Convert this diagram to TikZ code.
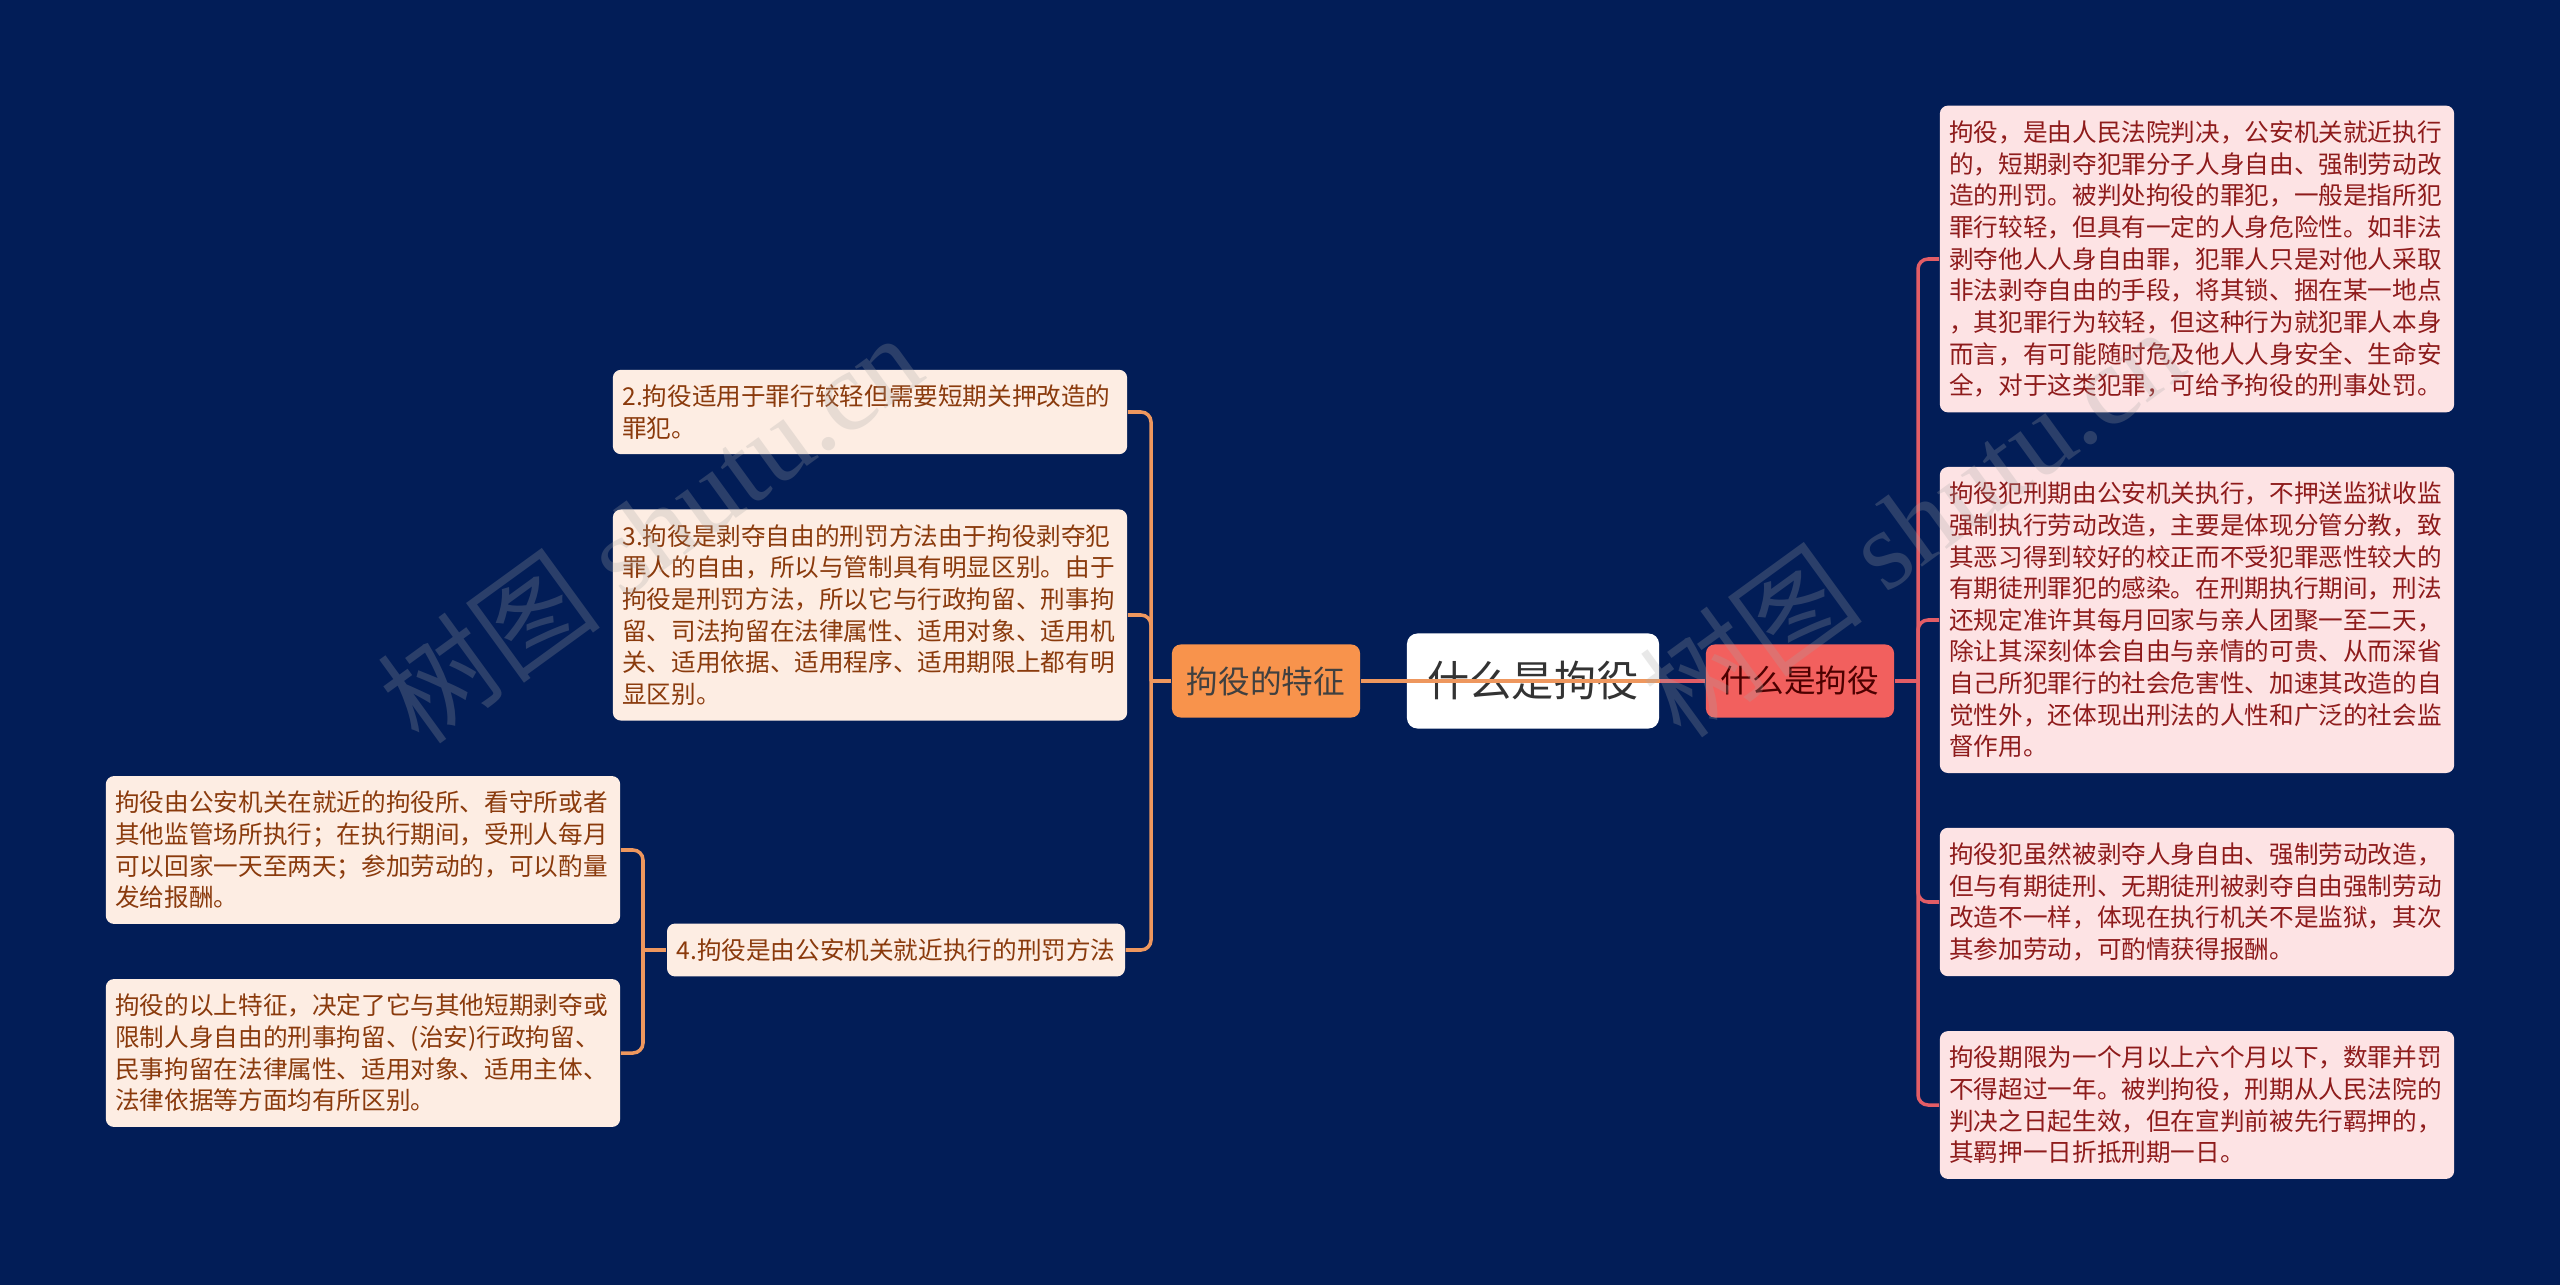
\documentclass[tikz,border=0pt]{standalone}
\usepackage{fontspec}
\setmainfont{Noto Sans CJK SC}
\newfontfamily\wmfont{Liberation Serif}
\definecolor{navy}{HTML}{021D57}
\definecolor{peach}{HTML}{FDEDE3}
\definecolor{blush}{HTML}{FDE3E4}
\definecolor{amber}{HTML}{F8934C}
\definecolor{coral}{HTML}{F2605E}
\definecolor{rust}{HTML}{8A3A0C}
\definecolor{wine}{HTML}{8E1B1B}
\definecolor{ambline}{HTML}{EE975E}
\definecolor{corline}{HTML}{E25D66}

\begin{document}
\begin{tikzpicture}[x=.01cm,y=-.01cm,
 leaf/.style={rounded corners=2.3pt,inner xsep=.095cm,inner ysep=.15cm,font=\fontsize{7}{9}\selectfont},
 wide/.style={leaf,text width=4.95cm,align=left},
 lleaf/.style={fill=peach,text=rust},
 rleaf/.style={fill=blush,text=wine},
 topic/.style={rounded corners=2.5pt,minimum width=1.88cm,minimum height=.73cm,font=\fontsize{9}{11}\selectfont},
 fline/.style={ambline,line width=1pt},
 rline/.style={corline,line width=1pt},
 wmark/.style={rotate=36,text=gray!70,opacity=.25,font=\fontsize{32}{34}\selectfont}]
 \fill[navy](0,0)rectangle(2560,1285);
 \node[fill=white,rounded corners=3pt,minimum width=2.52cm,minimum height=.95cm,text=black!80,font=\fontsize{12}{14}\selectfont](root)at(1533,681){什么是拘役};
 \node[topic,fill=amber,text=black!75](feat)at(1266,681){拘役的特征};
 \node[topic,fill=coral,text=black!70!red](what)at(1800,681){什么是拘役};
 \node[wide,lleaf](l1)at(870,412){2.拘役适用于罪行较轻但需要短期关押改造的\\罪犯。};
 \node[wide,lleaf](l2)at(870,615){3.拘役是剥夺自由的刑罚方法由于拘役剥夺犯\\罪人的自由，所以与管制具有明显区别。由于\\拘役是刑罚方法，所以它与行政拘留、刑事拘\\留、司法拘留在法律属性、适用对象、适用机\\关、适用依据、适用程序、适用期限上都有明\\显区别。};
 \node[leaf,lleaf](l3)at(896,950){4.拘役是由公安机关就近执行的刑罚方法};
 \node[wide,lleaf](l3a)at(363,850){拘役由公安机关在就近的拘役所、看守所或者\\其他监管场所执行；在执行期间，受刑人每月\\可以回家一天至两天；参加劳动的，可以酌量\\发给报酬。};
 \node[wide,lleaf](l3b)at(363,1053){拘役的以上特征，决定了它与其他短期剥夺或\\限制人身自由的刑事拘留、(治安)行政拘留、\\民事拘留在法律属性、适用对象、适用主体、\\法律依据等方面均有所区别。};
 \node[wide,rleaf](r1)at(2197,259){拘役，是由人民法院判决，公安机关就近执行\\的，短期剥夺犯罪分子人身自由、强制劳动改\\造的刑罚。被判处拘役的罪犯，一般是指所犯\\罪行较轻，但具有一定的人身危险性。如非法\\剥夺他人人身自由罪，犯罪人只是对他人采取\\非法剥夺自由的手段，将其锁、捆在某一地点\\，其犯罪行为较轻，但这种行为就犯罪人本身\\而言，有可能随时危及他人人身安全、生命安\\全，对于这类犯罪，可给予拘役的刑事处罚。};
 \node[wide,rleaf](r2)at(2197,620){拘役犯刑期由公安机关执行，不押送监狱收监\\强制执行劳动改造，主要是体现分管分教，致\\其恶习得到较好的校正而不受犯罪恶性较大的\\有期徒刑罪犯的感染。在刑期执行期间，刑法\\还规定准许其每月回家与亲人团聚一至二天，\\除让其深刻体会自由与亲情的可贵、从而深省\\自己所犯罪行的社会危害性、加速其改造的自\\觉性外，还体现出刑法的人性和广泛的社会监\\督作用。};
 \node[wide,rleaf](r3)at(2197,902){拘役犯虽然被剥夺人身自由、强制劳动改造，\\但与有期徒刑、无期徒刑被剥夺自由强制劳动\\改造不一样，体现在执行机关不是监狱，其次\\其参加劳动，可酌情获得报酬。};
 \node[wide,rleaf](r4)at(2197,1105){拘役期限为一个月以上六个月以下，数罪并罚\\不得超过一年。被判拘役，刑期从人民法院的\\判决之日起生效，但在宣判前被先行羁押的，\\其羁押一日折抵刑期一日。};
 \coordinate(jl)at(1151,681);
 \coordinate(jr)at(1918,681);
 \coordinate(js)at(643,950);
 \draw[fline](feat.east)--(root.east);
 \draw[rline](root.east)--(what.west);
 \draw[fline](feat.west)--(jl);
 \foreach \n in {l1,l2,l3}\draw[fline,rounded corners=.1cm](jl)|-(\n.east);
 \draw[fline](l3.west)--(js);
 \foreach \n in {l3a,l3b}\draw[fline,rounded corners=.1cm](js)|-(\n.east);
 \draw[rline](what.east)--(jr);
 \foreach \n in {r1,r2,r3,r4}\draw[rline,rounded corners=.1cm](jr)|-(\n.west);
 \node[wmark](wm1)at(650,528){树图 {\wmfont shutu.cn}};
 \node[wmark](wm2)at(1912,522){树图 {\wmfont shutu.cn}};
\end{tikzpicture}
\end{document}
